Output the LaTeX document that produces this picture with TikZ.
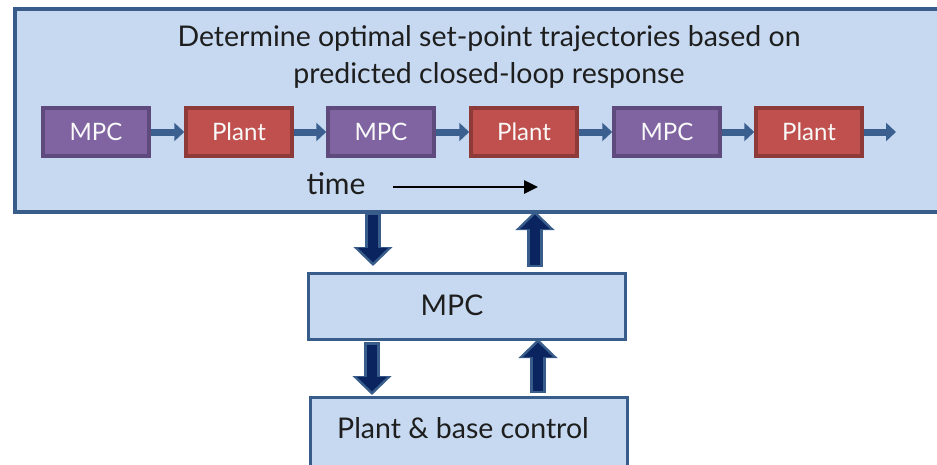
\documentclass[tikz,border=0pt]{standalone}
\usepackage{fontspec}
\setmainfont{Lato}
\usetikzlibrary{arrows.meta,calc}
\definecolor{bgblue}{HTML}{C6D9F1}
\definecolor{bdblue}{HTML}{385D8A}
\definecolor{navy}{HTML}{0A2460}
\definecolor{mpcfill}{HTML}{8064A2}
\definecolor{mpcdraw}{HTML}{5F4A7D}
\definecolor{plantfill}{HTML}{C0504D}
\definecolor{plantdraw}{HTML}{8E3A38}
\definecolor{txt}{HTML}{1E1E1E}
\definecolor{smallarrow}{HTML}{3B6090}
\tikzset{
  mpcbox/.style={draw=mpcdraw, fill=mpcfill, line width=3.5pt, minimum width=106pt, minimum height=48pt, inner sep=0pt, text=white!95!gray, font=\fontsize{24}{28}\selectfont},
  plantbox/.style={draw=plantdraw, fill=plantfill, line width=3.5pt, minimum width=106pt, minimum height=48pt, inner sep=0pt, text=white!95!gray, font=\fontsize{24}{28}\selectfont},
  lightbox/.style={draw=bdblue, fill=bgblue, line width=3pt, inner sep=0pt},
  flowarrow/.style={draw=smallarrow, line width=7pt, -{Triangle[width=18pt,length=10pt]}},
  blockout/.style={draw=bdblue, line width=16pt, -{Triangle[width=38pt,length=19pt]}},
  blockin/.style={draw=navy, line width=10pt, -{Triangle[width=29pt,length=14.5pt]}, shorten >=3.6pt},
}
\begin{document}
\begin{tikzpicture}[x=1pt,y=-1pt]
\clip (0,0) rectangle (937,464);
\fill[white] (0,0) rectangle (937,464);
% big top box
\node[lightbox, line width=4pt, minimum width=940pt, minimum height=203pt, anchor=north west] (top) at (13,7) {};
\node[text=txt, align=center, font=\fontsize{28.5}{37}\selectfont] (title) at (489,57) {Determine optimal set-point trajectories based on\\predicted closed-loop response};
% sequence
\node[mpcbox] (m1) at (96,132) {MPC};
\node[plantbox] (p1) at (239,132) {Plant};
\node[mpcbox] (m2) at (381,132) {MPC};
\node[plantbox] (p2) at (524,132) {Plant};
\node[mpcbox] (m3) at (667,132) {MPC};
\node[plantbox] (p3) at (809,132) {Plant};
\coordinate (endp) at (896,132);
\draw[flowarrow] (m1.east) -- (p1.west);
\draw[flowarrow] (p1.east) -- (m2.west);
\draw[flowarrow] (m2.east) -- (p2.west);
\draw[flowarrow] (p2.east) -- (m3.west);
\draw[flowarrow] (m3.east) -- (p3.west);
\draw[flowarrow] (p3.east) -- (endp);
% time
\node[text=txt, font=\fontsize{30}{34}\selectfont] (time) at (336,184) {time};
\coordinate (t0) at (393,187);
\coordinate (t1) at (538,187);
\draw[line width=2.8pt, -{Triangle[width=13pt,length=14pt]}] (t0) -- (t1);
% middle MPC
\node[lightbox, minimum width=317pt, minimum height=66pt, anchor=north west] (mpc) at (307,272) {};
\node[text=txt, font=\fontsize{28.5}{32}\selectfont] (mpctext) at (452,305) {MPC};
% bottom box
\node[lightbox, minimum width=317pt, minimum height=80pt, anchor=north west] (plant) at (309,396) {};
\node[text=txt, font=\fontsize{28.5}{32}\selectfont] (planttext) at (463,428) {Plant \& base control};
% block arrows
\coordinate (d1a) at (373,212); \coordinate (d1b) at (373,266);
\coordinate (u1a) at (535,267); \coordinate (u1b) at (535,211);
\coordinate (d2a) at (372,342); \coordinate (d2b) at (372,395);
\coordinate (u2a) at (538,393); \coordinate (u2b) at (538,339);
\foreach \a/\b in {d1a/d1b,u1a/u1b,d2a/d2b,u2a/u2b}{
  \draw[blockout] (\a) -- (\b);
  \draw[blockin] ($(\a)!2.5pt!(\b)$) -- (\b);
}
\end{tikzpicture}
\end{document}
